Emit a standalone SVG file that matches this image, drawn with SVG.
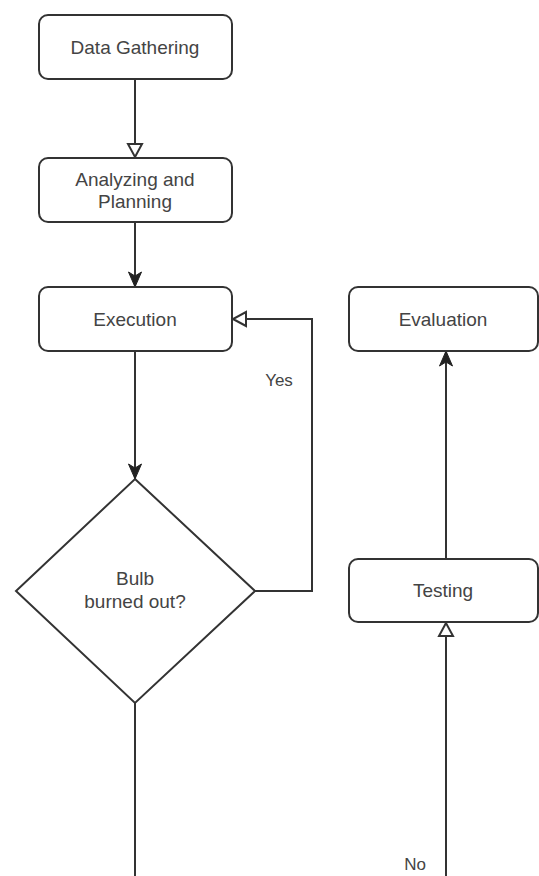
<svg xmlns="http://www.w3.org/2000/svg" width="539" height="876" viewBox="0 0 539 876">
<style>
.box{fill:#fff;stroke:#333;stroke-width:2}
.lbl{font-family:"Liberation Sans",Arial,sans-serif;font-size:19px;fill:#444;text-anchor:middle;dominant-baseline:central}
.el{font-family:"Liberation Sans",Arial,sans-serif;font-size:17px;fill:#444;text-anchor:middle;dominant-baseline:central}
.edge{fill:none;stroke:#333;stroke-width:2}
</style>
<defs>
<marker id="filled" markerUnits="userSpaceOnUse" viewBox="-18 -9 20 18" markerWidth="20" markerHeight="18" refX="0" refY="0" orient="auto">
<path d="M0,0 L-15,-6.5 L-11,0 L-15,6.5 Z" fill="#222" stroke="#222" stroke-width="1"/>
</marker>
<marker id="open" markerUnits="userSpaceOnUse" viewBox="-18 -9 20 18" markerWidth="20" markerHeight="18" refX="0" refY="0" orient="auto">
<path d="M-1,0 L-14,-7 L-14,7 Z" fill="#fff" stroke="#333" stroke-width="2"/>
</marker>
</defs>
<rect width="539" height="876" fill="#fff"/>
<g id="connectors">
<path class="edge" d="M135,79 L135,158" marker-end="url(#open)"/>
<path class="edge" d="M135,222 L135,287" marker-end="url(#filled)"/>
<path class="edge" d="M135,351 L135,479" marker-end="url(#filled)"/>
<path class="edge" d="M255,591 L312,591 L312,319 L232,319" marker-end="url(#open)"/>
<path class="edge" d="M135,703 L135,876"/>
<path class="edge" d="M446,876 L446,622" marker-end="url(#open)"/>
<path class="edge" d="M446,559 L446,351" marker-end="url(#filled)"/>
<text class="el" x="279" y="380">Yes</text>
<text class="el" x="415" y="864">No</text>
</g>
<g id="data-gathering">
<rect class="box" x="39" y="15" width="193" height="64" rx="9"/>
<text class="lbl" x="135" y="47">Data Gathering</text>
</g>
<g id="analyzing-planning">
<rect class="box" x="39" y="158" width="193" height="64" rx="9"/>
<text class="lbl" x="135" y="179">Analyzing and</text>
<text class="lbl" x="135" y="201">Planning</text>
</g>
<g id="execution">
<rect class="box" x="39" y="287" width="193" height="64" rx="9"/>
<text class="lbl" x="135" y="319">Execution</text>
</g>
<g id="bulb-decision">
<path class="box" d="M135,479 L255,591 L135,703 L16,591 Z"/>
<text class="lbl" x="135" y="578">Bulb</text>
<text class="lbl" x="135" y="601">burned out?</text>
</g>
<g id="evaluation">
<rect class="box" x="349" y="287" width="189" height="64" rx="9"/>
<text class="lbl" x="443" y="319">Evaluation</text>
</g>
<g id="testing">
<rect class="box" x="349" y="559" width="189" height="63" rx="9"/>
<text class="lbl" x="443" y="590">Testing</text>
</g>
</svg>
